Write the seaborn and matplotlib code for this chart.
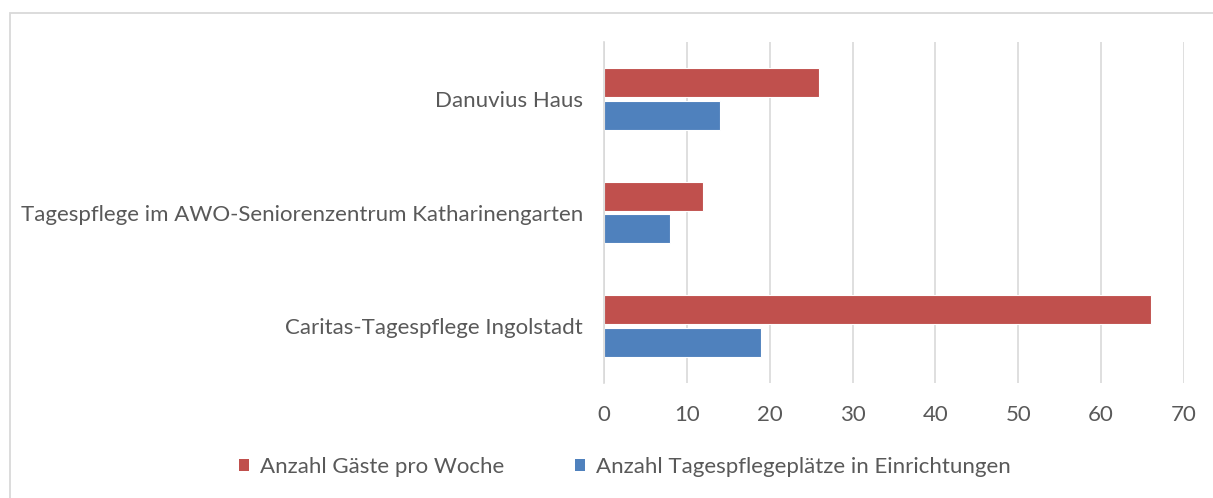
import pandas as pd
import seaborn as sns
import matplotlib.pyplot as plt
from matplotlib.patches import Rectangle, Patch

einrichtungen = ["Danuvius Haus",
                 "Tagespflege im AWO-Seniorenzentrum Katharinengarten",
                 "Caritas-Tagespflege Ingolstadt"]
serien = ["Anzahl Gäste pro Woche", "Anzahl Tagespflegeplätze in Einrichtungen"]
gaeste = [26, 12, 66]
plaetze = [14, 8, 19]
farben = ["#C0504D", "#4F81BD"]
ticks = [0, 10, 20, 30, 40, 50, 60, 70]

df = pd.DataFrame({
    "Einrichtung": einrichtungen * 2,
    "Serie": [serien[0]] * 3 + [serien[1]] * 3,
    "Wert": gaeste + plaetze,
})

sns.set_theme(style="white")
plt.rcParams["font.family"] = ["Lato", "DejaVu Sans"]
grau = "#595959"
fs = 16

fig = plt.figure(figsize=(12.13, 4.98), dpi=100)
# chart frame (light grey, cut off at right and bottom)
fig.patches.append(Rectangle((10 / 1213, -0.1), 1.2, 0.1 + 1 - 13 / 498,
                             transform=fig.transFigure, fill=False,
                             edgecolor="#D9D9D9", linewidth=1.3))

ax = fig.add_axes([604 / 1213, 1 - 383 / 498, 580 / 1213, 341 / 498])
sns.barplot(data=df, x="Wert", y="Einrichtung", hue="Serie", order=einrichtungen,
            hue_order=serien, palette=farben, orient="h", width=0.58, gap=0.12,
            edgecolor="white", linewidth=0.8, saturation=1, legend=False, ax=ax)

ax.set_xlim(0, 70)
ax.set_ylim(2.5, -0.5)
ax.set_xticks(ticks)
ax.set_xticklabels([str(t) for t in ticks], fontsize=fs, color=grau)
ax.xaxis.grid(True, color="#D9D9D9", linewidth=1.2)
ax.set_axisbelow(True)
ax.tick_params(axis="x", length=0, pad=16)

# category labels at centres, tick marks at boundaries
ax.set_yticks([0, 1, 2])
ax.set_yticklabels(einrichtungen, fontsize=fs, color=grau)
ax.tick_params(axis="y", length=0, pad=15)
ax.set_yticks([-0.5, 0.5, 1.5, 2.5], minor=True)
ax.tick_params(axis="y", which="minor", length=6, color="#D9D9D9", width=1.2)

for s in ["top", "right", "bottom"]:
    ax.spines[s].set_visible(False)
ax.spines["left"].set_color("#D9D9D9")
ax.spines["left"].set_linewidth(1.2)
ax.set_xlabel("")
ax.set_ylabel("")

handles = [Patch(facecolor=c, edgecolor="none") for c in farben]
fig.legend(handles, serien, loc="center", bbox_to_anchor=(0.515, 1 - 467 / 498),
           ncol=2, frameon=False, fontsize=fs, labelcolor=grau,
           handlelength=0.45, handleheight=0.45, handletextpad=0.5, columnspacing=3.2)

fig.savefig("out.png", dpi=100)
